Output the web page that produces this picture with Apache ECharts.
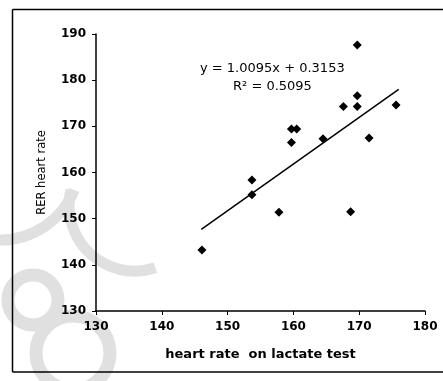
<!DOCTYPE html>
<html>
<head>
<meta charset="utf-8">
<script src="https://cdn.jsdelivr.net/npm/echarts@6/dist/echarts.min.js"></script>
<style>html,body{margin:0;padding:0;background:#fff;overflow:hidden;}#c{width:443px;height:381px;}</style>
</head>
<body>
<div id="c"></div>
<script>
// Data
var lactateHR = [146.1, 153.7, 153.7, 157.8, 159.7, 159.7, 160.5, 164.5, 167.6, 168.7, 169.7, 169.7, 169.7, 171.5, 175.6];
var rerHR     = [143.2, 155.2, 158.4, 151.4, 166.5, 169.4, 169.4, 167.3, 174.3, 151.5, 187.6, 176.6, 174.3, 167.5, 174.6];
var slope = 1.0095, intercept = 0.3153, r2 = 0.5095;
var trendX = [146, 176];
var xTicks = [130, 140, 150, 160, 170, 180];
var yTicks = [130, 140, 150, 160, 170, 180, 190];

var pts = lactateHR.map(function (x, i) { return [x, rerHR[i]]; });
var trend = trendX.map(function (x) { return [x, slope * x + intercept]; });

var chart = echarts.init(document.getElementById('c'), null, {renderer: 'canvas'});
var axisFont = {fontFamily: 'DejaVu Sans', fontSize: 12, fontWeight: 'bold', color: '#000'};
var wm = '#e0e0e0';
var d = Math.PI / 180;
chart.setOption({
  animation: false,
  backgroundColor: '#fff',
  grid: {left: 96, right: 18, top: 34, bottom: 70},
  xAxis: {
    type: 'value', min: xTicks[0], max: xTicks[xTicks.length - 1], interval: 10,
    name: 'heart rate  on lactate test', nameLocation: 'middle', nameGap: 37,
    nameTextStyle: {fontFamily: 'DejaVu Sans', fontSize: 13, fontWeight: 'bold', color: '#000'},
    axisLine: {lineStyle: {color: '#000', width: 1.5}},
    axisTick: {length: 4, lineStyle: {color: '#000', width: 1}},
    axisLabel: Object.assign({margin: 10}, axisFont),
    splitLine: {show: false}
  },
  yAxis: {
    type: 'value', min: yTicks[0], max: yTicks[yTicks.length - 1], interval: 10,
    name: 'RER heart rate', nameLocation: 'middle', nameGap: 48,
    nameTextStyle: {fontFamily: 'DejaVu Sans', fontSize: 11.5, color: '#000'},
    axisLine: {show: true, lineStyle: {color: '#000', width: 1.5}},
    axisTick: {show: true, length: 4, lineStyle: {color: '#000', width: 1}},
    axisLabel: Object.assign({margin: 10}, axisFont),
    splitLine: {show: false}
  },
  graphic: [
    {type: 'line', z: -10, shape: {x1: 12.5, y1: 9.5, x2: 443, y2: 9.5}, style: {stroke: '#000', lineWidth: 1.5}},
    {type: 'line', z: -10, shape: {x1: 12.5, y1: 9.5, x2: 12.5, y2: 372}, style: {stroke: '#000', lineWidth: 1.5}},
    {type: 'line', z: -10, shape: {x1: 12.5, y1: 372, x2: 443, y2: 372}, style: {stroke: '#000', lineWidth: 1.5}},
    {type: 'circle', z: -20, shape: {cx: 33, cy: 300, r: 25}, style: {fill: 'none', stroke: wm, lineWidth: 13}},
    {type: 'circle', z: -20, shape: {cx: 73, cy: 353, r: 37}, style: {fill: 'none', stroke: wm, lineWidth: 13}},
    {type: 'arc', z: -20, shape: {cx: 135, cy: 205, r: 66, startAngle: 72 * d, endAngle: 193 * d}, style: {fill: 'none', stroke: wm, lineWidth: 11}},
    {type: 'arc', z: -20, shape: {cx: 0, cy: 160, r: 80, startAngle: 22 * d, endAngle: 90 * d}, style: {fill: 'none', stroke: wm, lineWidth: 11}},
    {type: 'text', left: 200, top: 62, style: {text: 'y = ' + slope.toFixed(4) + 'x + ' + intercept.toFixed(4), fontFamily: 'DejaVu Sans', fontSize: 13, fill: '#000'}},
    {type: 'text', left: 233, top: 80, style: {text: 'R\u00b2 = ' + r2.toFixed(4), fontFamily: 'DejaVu Sans', fontSize: 13, fill: '#000'}}
  ],
  series: [
    {type: 'line', data: trend, symbol: 'none', lineStyle: {color: '#000', width: 1.5}, z: 2},
    {type: 'scatter', data: pts, symbol: 'diamond', symbolSize: 9, itemStyle: {color: '#000', opacity: 1}, z: 3}
  ]
});
</script>
</body>
</html>
